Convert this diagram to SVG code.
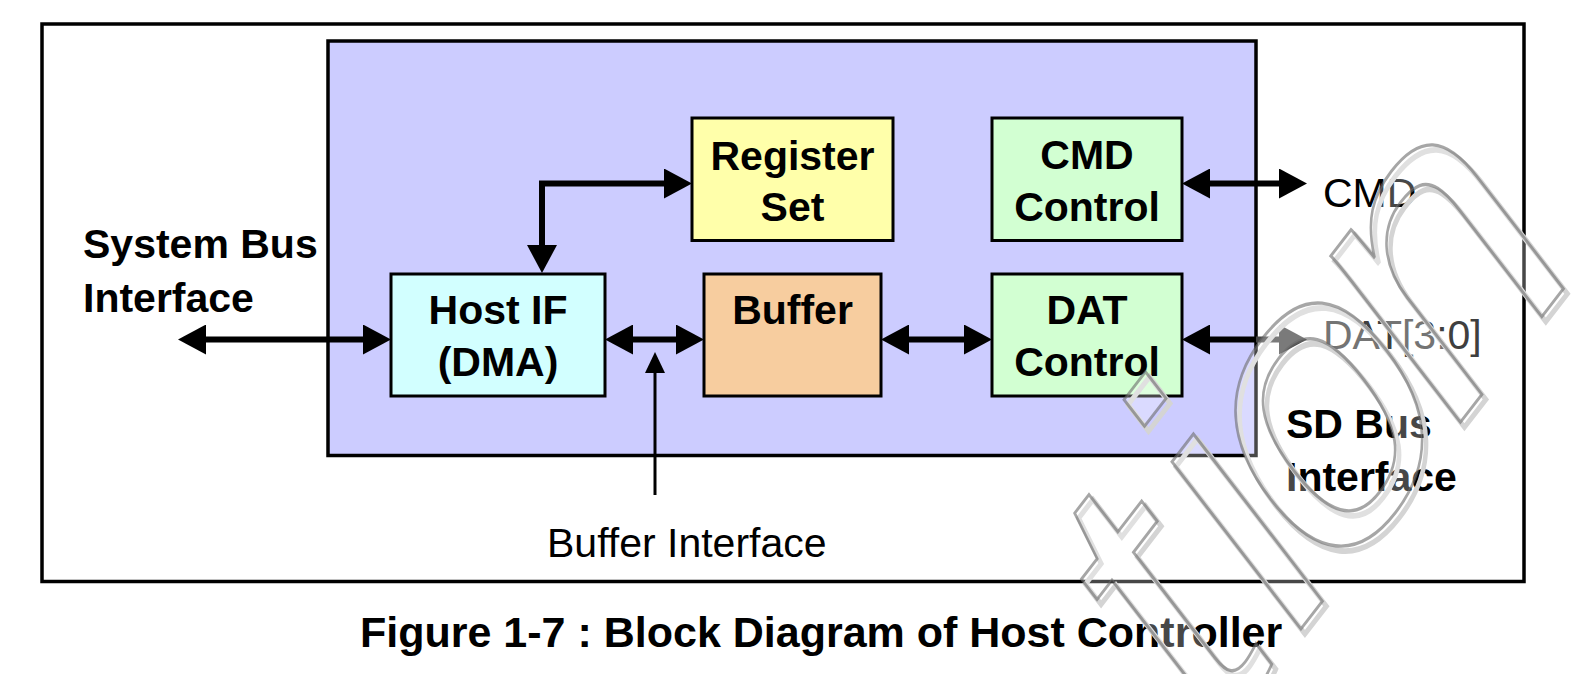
<svg xmlns="http://www.w3.org/2000/svg" width="1590" height="674" viewBox="0 0 1590 674">
<defs>
<style>
.frame{fill:#fff;stroke:#000;stroke-width:3.5}
.core{fill:#CCCCFF;stroke:#000;stroke-width:3.5}
.box{stroke:#000;stroke-width:3}
.bl{font-family:"Liberation Sans",Arial,sans-serif;font-weight:bold;font-size:41px;fill:#000}
.rl{font-family:"Liberation Sans",Arial,sans-serif;font-size:41px;fill:#000}
.mid{text-anchor:middle}
.conn{fill:none;stroke:#000;stroke-width:6;stroke-linejoin:miter}
.thin{fill:none;stroke:#000;stroke-width:3}
.wm{font-family:"Liberation Sans",Arial,sans-serif;font-size:100px}
</style>
<marker id="ah" viewBox="0 0 28 30" refX="8" refY="15" markerWidth="28" markerHeight="30" markerUnits="userSpaceOnUse" orient="auto-start-reverse">
<path d="M0,0 L28,15 L0,30 Z" fill="#000"/>
</marker>
<marker id="ahg" viewBox="0 0 28 30" refX="8" refY="15" markerWidth="28" markerHeight="30" markerUnits="userSpaceOnUse" orient="auto">
<path d="M0,0 L28,15 L0,30 Z" fill="#474747"/>
</marker>
<marker id="ahs" viewBox="0 0 21 20" refX="6" refY="10" markerWidth="21" markerHeight="20" markerUnits="userSpaceOnUse" orient="auto">
<path d="M0,0 L21,10 L0,20 Z" fill="#000"/>
</marker>
</defs>

<rect class="frame" x="42" y="24" width="1482" height="557.5"/>
<rect class="core" x="328" y="41" width="928" height="414.5"/>

<g id="labels-outside">
<text class="bl" x="83" y="258">System Bus</text>
<text class="bl" x="83" y="312">Interface</text>
<text class="bl" x="1286" y="438">SD Bus</text>
<text class="bl" x="1286" y="491">Interface</text>
<text class="rl" x="1323" y="206.5">CMD</text>
<text class="rl" x="1323" y="348.5" style="fill:#3f3f3f">DAT[3:0]</text>
<text class="rl" x="547" y="557">Buffer Interface</text>
<text class="bl" x="360" y="647" style="font-size:43px">Figure 1-7 : Block Diagram of Host Controller</text>
</g>

<g id="register-set">
<rect class="box" x="692" y="118" width="201" height="122.5" fill="#FFFFAA"/>
<text class="bl mid" x="792.5" y="169.5">Register</text>
<text class="bl mid" x="792.5" y="220.5">Set</text>
</g>

<g id="cmd-control">
<rect class="box" x="992" y="118" width="190" height="122.5" fill="#D2FFD2"/>
<text class="bl mid" x="1087" y="169">CMD</text>
<text class="bl mid" x="1087" y="220.5">Control</text>
</g>

<g id="host-if">
<rect class="box" x="391" y="274" width="214" height="122" fill="#D2FFFF"/>
<text class="bl mid" x="498" y="324">Host IF</text>
<text class="bl mid" x="498" y="376">(DMA)</text>
</g>

<g id="buffer">
<rect class="box" x="704" y="274" width="177" height="122" fill="#F7CD9F"/>
<text class="bl mid" x="792.5" y="324">Buffer</text>
</g>

<g id="dat-control">
<rect class="box" x="992" y="274" width="190" height="122" fill="#D2FFD2"/>
<text class="bl mid" x="1087" y="324">DAT</text>
<text class="bl mid" x="1087" y="376">Control</text>
</g>

<g id="connectors">
<line class="conn" x1="198" y1="339.5" x2="371" y2="339.5" marker-start="url(#ah)" marker-end="url(#ah)"/>
<line class="conn" x1="625" y1="339.5" x2="684" y2="339.5" marker-start="url(#ah)" marker-end="url(#ah)"/>
<path class="conn" d="M542,253 L542,183.5 L672,183.5" marker-start="url(#ah)" marker-end="url(#ah)"/>
<line class="conn" x1="901" y1="339.5" x2="972" y2="339.5" marker-start="url(#ah)" marker-end="url(#ah)"/>
<line class="conn" x1="1202" y1="183.5" x2="1287" y2="183.5" marker-start="url(#ah)" marker-end="url(#ah)"/>
<line class="conn" x1="1202" y1="339.5" x2="1257" y2="339.5" marker-start="url(#ah)"/>
<line class="conn" x1="1256" y1="339.5" x2="1287" y2="339.5" style="stroke:#474747" marker-end="url(#ahg)"/>
<line class="thin" x1="655" y1="495" x2="655" y2="367" marker-end="url(#ahs)"/>
</g>

<g id="watermark">
<g transform="translate(4,5)">
<text class="wm" transform="matrix(2.441,-3.164,2.441,3.164,1284.6,650.1)" x="-31.9 0 16.8 65.1" y="0" fill="none" stroke="#d4d4d4" stroke-width="1.3">tion</text>
</g>
<text class="wm" transform="matrix(2.441,-3.164,2.441,3.164,1284.6,650.1)" x="-31.9 0 16.8 65.1" y="0" fill="#fff" fill-opacity="0.28" stroke="#6a6a6a" stroke-opacity="0.6" stroke-width="0.75">tion</text>
</g>
</svg>
